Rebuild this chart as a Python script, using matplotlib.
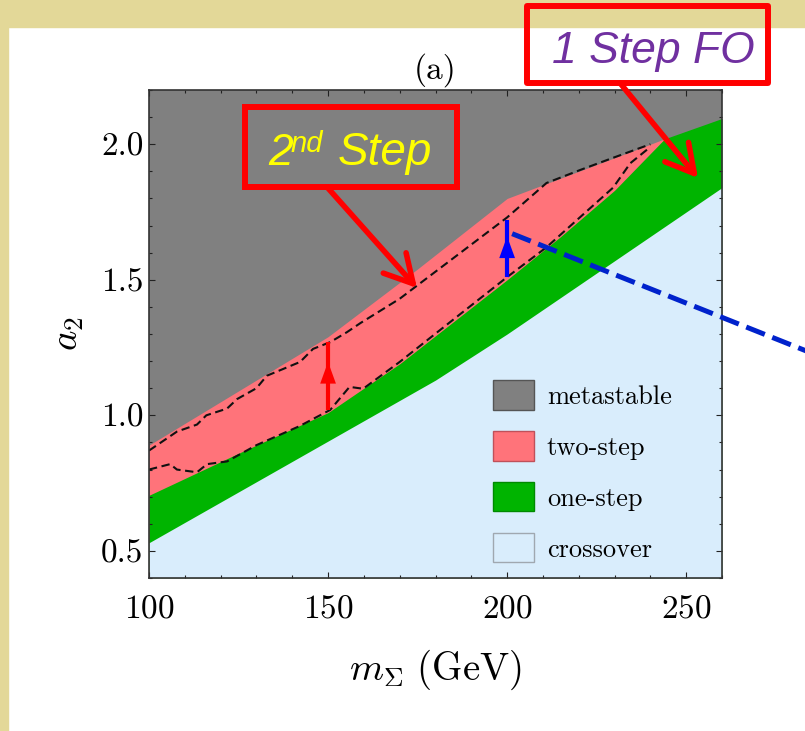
import matplotlib.pyplot as plt
import numpy as np
from matplotlib.patches import Patch, Rectangle, FancyArrowPatch
from matplotlib.ticker import MultipleLocator, FormatStrFormatter

plt.rcParams['font.family'] = 'serif'
plt.rcParams['font.serif'] = ['cmr10']
plt.rcParams['mathtext.fontset'] = 'cm'
plt.rcParams['axes.formatter.use_mathtext'] = True

## phase boundaries (m_Sigma in GeV, a2)
x_two = [100, 125, 150, 175, 200, 222, 244]
y_two = [0.89, 1.09, 1.29, 1.54, 1.80, 1.91, 2.02]

x_one = [100, 125, 150, 170, 200, 215, 230, 244, 260]
y_one = [0.705, 0.86, 1.01, 1.19, 1.50, 1.66, 1.83, 2.02, 2.095]

x_cross = [100, 120, 140, 160, 180, 200, 220, 240, 260]
y_cross = [0.53, 0.68, 0.83, 0.98, 1.13, 1.30, 1.48, 1.66, 1.84]

# dashed contours inside the two-step band
x_dash_hi = [100, 107.8, 113.4, 116, 121.8, 124.6, 130, 132.9, 142.2, 145.8, 150.6,
             155.3, 159, 170, 172, 200, 211, 220.4, 229.6, 240]
y_dash_hi = [0.87, 0.94, 0.966, 1.0, 1.025, 1.06, 1.10, 1.146, 1.197, 1.245, 1.27,
             1.307, 1.34, 1.43, 1.45, 1.73, 1.857, 1.905, 1.95, 2.0]
x_dash_lo = [100, 105.9, 107.8, 113.4, 116.2, 121.8, 130, 142, 150.6, 156, 159.8,
             170, 200, 211, 229.6, 234.4, 240]
y_dash_lo = [0.80, 0.82, 0.80, 0.79, 0.82, 0.83, 0.89, 0.96, 1.02, 1.105, 1.098,
             1.197, 1.51, 1.62, 1.84, 1.93, 1.99]

# vertical arrows: x, start, arrow tip, end
red_arrow = (150, 1.02, 1.197, 1.27)
blue_arrow = (200, 1.51, 1.66, 1.72)
blue_line_x = [201.4, 284]
blue_line_y = [1.67, 1.235]

labels = ['metastable', 'two-step', 'one-step', 'crossover']
colors = ['#808080', '#ff737a', '#00b400', '#d9edfc']
edges = ['#555555', '#c0505a', '#008a00', '#a0a8b0']

W, H = 805, 731
def fpx(x, y):
    return (x / W, 1 - y / H)

fig = plt.figure(figsize=(W / 100, H / 100), dpi=100)
tan = '#e3d898'
fig.patches.append(Rectangle((0, 1 - 27 / H), 1, 27 / H, transform=fig.transFigure,
                             color=tan, zorder=-1))
fig.patches.append(Rectangle((0, 0), 8 / W, 1, transform=fig.transFigure,
                             color=tan, zorder=-1))

ax = fig.add_axes([149 / W, 1 - 578 / H, 573 / W, 488 / H])
ymin, ymax = 0.4, 2.2
ax.set_xlim(100, 260)
ax.set_ylim(ymin, ymax)
ax.set_facecolor(colors[0])
ax.fill_between(x_two, y_two, ymin, color=colors[1], lw=0)
ax.fill_between(x_one, y_one, ymin, color=colors[2], lw=0)
ax.fill_between(x_cross, y_cross, ymin, color=colors[3], lw=0)
ax.plot(x_dash_hi, y_dash_hi, color='#111111', lw=1.5, ls=(0, (4, 2.2)))
ax.plot(x_dash_lo, y_dash_lo, color='#111111', lw=1.5, ls=(0, (4, 2.2)))

for (xa, y0, tip, y1), c in [(red_arrow, '#ff0000'), (blue_arrow, '#0000ff')]:
    ax.plot([xa, xa], [y0, y1], color=c, lw=3, solid_capstyle='butt', zorder=4)
    ax.arrow(xa, y0, 0, tip - y0, width=0.8, head_width=4.4, head_length=0.08,
             length_includes_head=True, color=c, lw=0, zorder=4)

ax.plot(blue_line_x, blue_line_y, color='#0022cc', lw=3.6, ls=(0, (4, 1.6)),
        clip_on=False, zorder=6)

ax.xaxis.set_major_locator(MultipleLocator(50))
ax.xaxis.set_minor_locator(MultipleLocator(10))
ax.yaxis.set_major_locator(MultipleLocator(0.5))
ax.yaxis.set_minor_locator(MultipleLocator(0.1))
ax.yaxis.set_major_formatter(FormatStrFormatter('%.1f'))
ax.tick_params(which='both', direction='in', top=True, right=True, width=0.8,
               color='#222222', labelsize=24)
ax.tick_params(which='major', length=4.3)
ax.tick_params(which='minor', length=2.5)
ax.tick_params(axis='x', pad=12)
ax.tick_params(axis='y', pad=4)
for s in ax.spines.values():
    s.set_linewidth(1.2)
    s.set_color('#333333')

ax.set_xlabel(r'$m_\Sigma\ (\mathrm{GeV})$', fontsize=28)
ax.set_ylabel(r'$a_2$', fontsize=28)
ax.xaxis.set_label_coords(0.5, -0.143)
ax.yaxis.set_label_coords(-0.11, 0.5)
ax.set_title('(a)', fontsize=24, pad=8)

handles = [Patch(facecolor=c, edgecolor=e, lw=1) for c, e in zip(colors, edges)]
ax.legend(handles, labels, loc='upper left', bbox_to_anchor=(0.600, 0.405),
          frameon=False, borderpad=0, borderaxespad=0, handlelength=1.55,
          handleheight=1.33, handletextpad=0.5, labelspacing=0.82, fontsize=19)

# call-out boxes and arrows
sans = dict(family='Liberation Sans', style='italic')
fig.patches.append(Rectangle(fpx(245, 187), 212 / W, 80 / H, transform=fig.transFigure,
                             fill=False, edgecolor='#ff0000', lw=4.3, zorder=7))
fig.patches.append(Rectangle(fpx(527, 83), 241 / W, 77 / H, transform=fig.transFigure,
                             fill=False, edgecolor='#ff0000', lw=4.3, zorder=7,
                             joinstyle='round'))
fig.text(*fpx(268, 165), '2', color='#ffff00', fontsize=32, va='baseline', zorder=8, **sans)
fig.text(*fpx(291, 152), 'nd', color='#ffff00', fontsize=21, va='baseline', zorder=8, **sans)
fig.text(*fpx(338, 165), 'Step', color='#ffff00', fontsize=33, va='baseline', zorder=8, **sans)
fig.text(*fpx(653, 63), '1 Step FO', color='#7030a0', fontsize=32, ha='center',
         va='baseline', zorder=8, **sans)

for a, b in [((327, 187), (417, 288)), ((620, 83), (698, 178))]:
    arr = FancyArrowPatch(fpx(*a), fpx(*b), transform=fig.transFigure,
                          arrowstyle='->,head_length=1.0,head_width=0.55',
                          mutation_scale=20, lw=4, color='#ff0000',
                          shrinkA=0, shrinkB=0, zorder=7)
    arr.set_capstyle('round')
    arr.set_joinstyle('round')
    fig.patches.append(arr)

fig.savefig('out.png', dpi=100)
